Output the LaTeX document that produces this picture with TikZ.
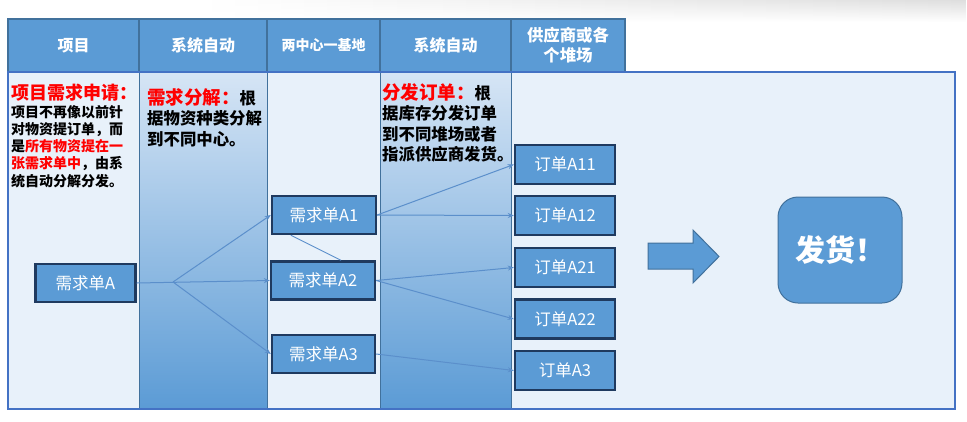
\documentclass[tikz,border=0pt]{standalone}
\usepackage{fontspec}
\setmainfont{Noto Sans CJK SC}
\usetikzlibrary{arrows.meta,fadings}
\definecolor{hdrblue}{HTML}{5B9BD5}
\definecolor{hdrline}{HTML}{41719C}
\definecolor{bodylight}{HTML}{E8F1FA}
\definecolor{gradtop}{HTML}{D6E5F5}
\definecolor{frameblue}{HTML}{4472C4}
\definecolor{boxline}{HTML}{1F3A5F}
\definecolor{linkblue}{HTML}{5B8FCB}
\definecolor{txtred}{HTML}{FF0000}
\begin{document}
\begin{tikzpicture}[x=1pt, y=-1pt,
    hdrcell/.style={draw=hdrline, line width=1.2pt, fill=hdrblue, text=white, align=center, inner sep=0pt, minimum height=53pt, font=\bfseries\fontsize{16}{19}\selectfont},
    desc/.style={anchor=north west, align=left, inner sep=0pt, font=\bfseries\fontsize{16.4}{20.5}\selectfont},
    reqbox/.style={draw=boxline, line width=2.4pt, fill=hdrblue, text=white, minimum width=101pt, minimum height=38pt, inner sep=0pt, font=\fontsize{16.5}{19}\selectfont},
    ordbox/.style={reqbox, minimum width=100pt, minimum height=39pt},
    link/.style={draw=linkblue, line width=1pt, -{Stealth[length=6pt,width=5pt]}},
    thinlink/.style={draw=linkblue, line width=0.8pt}
]
\useasboundingbox (0,0) rectangle (967,421);

% 顶部阴影
\shade[left color=white, right color=black!13, path fading=south] (200,0) rectangle (967,22);

% 表头
\node[hdrcell, minimum width=131pt] (h1) at (73.5,45.5) {项目};
\node[hdrcell, minimum width=128pt] (h2) at (203,45.5) {系统自动};
\node[hdrcell, minimum width=113pt, font=\bfseries\fontsize{14}{17}\selectfont] (h3) at (323.5,45.5) {两中心一基地};
\node[hdrcell, minimum width=131pt] (h4) at (445.5,45.5) {系统自动};
\node[hdrcell, minimum width=114pt, font=\bfseries\fontsize{16.4}{20}\selectfont] (h5) at (568,45.5) {供应商或各\\个堆场};

% 各列底色
\fill[bodylight] (8,72) rectangle (955,409);
\shade[top color=gradtop, bottom color=hdrblue] (139,72) rectangle (267,409);
\shade[top color=gradtop, bottom color=hdrblue] (380,72) rectangle (511,409);
\draw[hdrline, line width=0.8pt] (139,72) -- (139,409);
\draw[hdrline, line width=0.8pt] (267,72) -- (267,409);
\draw[hdrline, line width=0.8pt] (380,72) -- (380,409);
\draw[hdrline, line width=0.8pt] (511,72) -- (511,409);
\draw[frameblue, line width=1.6pt] (8,72) rectangle (955,409);

% 说明文字
\node[desc, font=\bfseries\fontsize{14}{17.3}\selectfont] (t1) at (11,84)
  {{\fontsize{18}{20}\selectfont\color{txtred}项目需求申请：}\\
   项目不再像以前针\\
   对物资提订单，而\\
   是\textcolor{txtred}{所有物资提在一}\\
   \textcolor{txtred}{张需求单中}，由系\\
   统自动分解分发。};
\node[desc] (t2) at (147,88)
  {{\fontsize{18.5}{20.5}\selectfont\color{txtred}需求分解：}根\\
   据物资种类分解\\
   到不同中心。};
\node[desc] (t4) at (382,83)
  {{\fontsize{18.5}{20.5}\selectfont\color{txtred}分发订单：}根\\
   据库存分发订单\\
   到不同堆场或者\\
   指派供应商发货。};

% 需求单
\node[reqbox, minimum width=100pt] (qA) at (85.5,283) {需求单A};
\node[reqbox, minimum width=104pt] (qA1) at (324,215) {需求单A1};
\node[reqbox, minimum width=104pt] (qA2) at (323,280.5) {需求单A2};
\node[reqbox, minimum width=103pt] (qA3) at (323.5,354) {需求单A3};

% 订单
\node[ordbox] (oA11) at (565,164.5) {订单A11};
\node[ordbox] (oA12) at (565,215.5) {订单A12};
\node[ordbox] (oA21) at (565,267.5) {订单A21};
\node[ordbox] (oA22) at (565,319) {订单A22};
\node[ordbox] (oA3) at (565,370.5) {订单A3};

% 发货
\draw[draw=hdrline, line width=1pt, fill=hdrblue] (648,243) -- (693,243) -- (693,230) -- (719,256.5) -- (693,283) -- (693,269) -- (648,269) -- cycle;
\node[draw=hdrline, line width=1pt, fill=hdrblue, rounded corners=20pt, minimum width=124pt, minimum height=106pt, text=white, font=\bfseries\fontsize{30}{34}\selectfont] (fh) at (840,250) {发货！};

% 连线
\coordinate (br) at (173,282);
\draw[link] (qA.east) -- (qA2.west);
\draw[link] (br) -- (qA1.west);
\draw[link] (br) -- (qA3.west);
\draw[thinlink] ([xshift=20pt]qA1.south west) -- ([xshift=18pt]qA2.north);
\draw[link] (qA1.east) -- (oA11.west);
\draw[link] (qA1.east) -- (oA12.west);
\draw[link] (qA2.east) -- (oA21.west);
\draw[link] (qA2.east) -- (oA22.west);
\draw[link] (qA3.east) -- (oA3.west);
\end{tikzpicture}
\end{document}
